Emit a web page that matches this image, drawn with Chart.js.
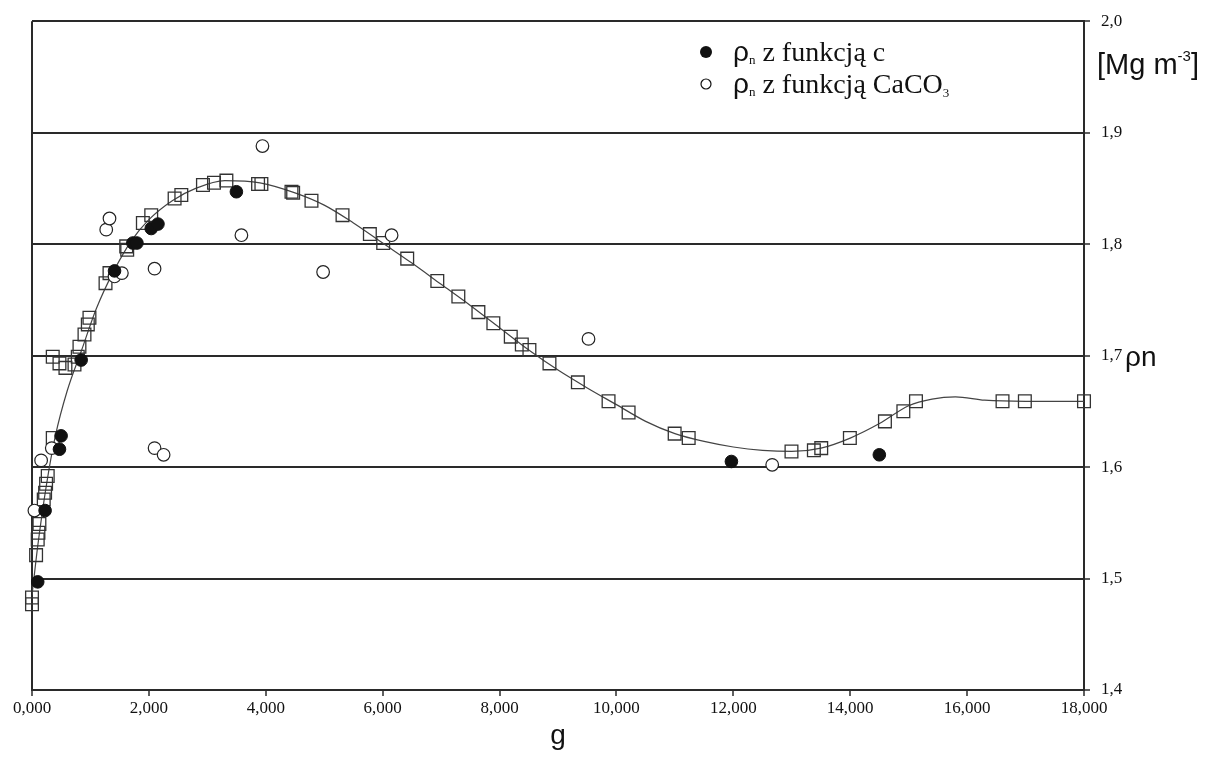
<!DOCTYPE html>
<html>
<head>
<meta charset="utf-8">
<script src="https://cdn.jsdelivr.net/npm/chart.js@4.4.1/dist/chart.umd.min.js"></script>
<style>
  body { margin: 0; background: #fff; }
  canvas { display: block; }
</style>
</head>
<body>
<canvas id="chart" width="1207" height="758"></canvas>
<script>
// ρn z funkcją c (filled circles)
const cX = [0.098, 0.224, 0.470, 0.498, 0.841, 1.412, 1.726, 1.795, 2.040, 2.155, 3.497, 11.967, 14.498];
const cY = [1.497, 1.561, 1.616, 1.628, 1.696, 1.776, 1.801, 1.801, 1.814, 1.818, 1.847, 1.605, 1.611];

// ρn z funkcją CaCO3 (open circles)
const caX = [0.041, 0.156, 0.338, 1.270, 1.326, 1.412, 1.538, 2.097, 2.097, 2.252, 3.583, 3.943, 4.981, 6.153, 9.522, 12.665];
const caY = [1.561, 1.606, 1.617, 1.813, 1.823, 1.771, 1.774, 1.778, 1.617, 1.611, 1.808, 1.888, 1.775, 1.808, 1.715, 1.602];

// squares
const sqX = [0, 0, 0.070, 0.098, 0.110, 0.127, 0.201, 0.224, 0.241, 0.269, 0.355, 0.355, 0.470, 0.572, 0.727, 0.783,
  0.812, 0.898, 0.955, 0.983, 1.258, 1.326, 1.612, 1.629, 1.897, 2.040, 2.440, 2.555, 2.925, 3.114, 3.326, 3.868,
  3.925, 4.440, 4.468, 4.782, 5.313, 5.781, 6.009, 6.420, 6.935, 7.295, 7.638, 7.894, 8.192, 8.381, 8.511, 8.854,
  9.340, 9.865, 10.208, 10.996, 11.236, 12.995, 13.378, 13.504, 13.994, 14.594, 14.909, 15.125, 16.606, 16.988, 18.0];
const sqY = [1.483, 1.477, 1.521, 1.535, 1.541, 1.549, 1.571, 1.577, 1.585, 1.592, 1.626, 1.699, 1.693, 1.689, 1.692, 1.699,
  1.708, 1.719, 1.728, 1.734, 1.765, 1.774, 1.798, 1.795, 1.819, 1.826, 1.841, 1.844, 1.853, 1.855, 1.857, 1.854,
  1.854, 1.847, 1.846, 1.839, 1.826, 1.809, 1.801, 1.787, 1.767, 1.753, 1.739, 1.729, 1.717, 1.710, 1.705, 1.693,
  1.676, 1.659, 1.649, 1.630, 1.626, 1.614, 1.615, 1.617, 1.626, 1.641, 1.650, 1.659, 1.659, 1.659, 1.659];

// fitted curve
const curveX = [0, 0.1, 0.25, 0.4, 0.6, 0.85, 1.1, 1.4, 1.7, 2.0, 2.4, 2.8, 3.3, 3.9, 4.5, 5.0, 5.5, 6.0, 6.5, 7.0,
  7.5, 8.0, 8.5, 9.0, 9.5, 10.0, 10.5, 11.0, 11.5, 12.0, 12.5, 13.0, 13.5, 14.0, 14.5, 15.0, 15.4, 15.8, 16.3, 17.0, 18.0];
const curveY = [1.485, 1.530, 1.585, 1.628, 1.668, 1.705, 1.742, 1.776, 1.803, 1.822, 1.839, 1.850, 1.857, 1.855, 1.846, 1.835, 1.819, 1.801, 1.783, 1.764,
  1.745, 1.725, 1.705, 1.687, 1.671, 1.656, 1.641, 1.630, 1.623, 1.618, 1.615, 1.614, 1.617, 1.626, 1.639, 1.655, 1.661, 1.663, 1.660, 1.659, 1.659];

const toPts = (xs, ys) => xs.map((x, i) => ({ x: x, y: ys[i] }));

const ink = '#2a2a2a';
const serif = '"Liberation Serif", "Times New Roman", serif';
const sans = '"Liberation Sans", Arial, sans-serif';

// texts outside the library: legend, units, axis titles
const textPlugin = {
    id: 'texts',
    afterDraw(chart) {
        const ctx = chart.ctx;
        const area = chart.chartArea;
        ctx.save();
        ctx.fillStyle = '#111';
        ctx.textBaseline = 'alphabetic';

        // legend
        const rows = [
            { filled: true, text: ' z funkcją c', sub2: '' },
            { filled: false, text: ' z funkcją CaCO', sub2: '3' }
        ];
        rows.forEach((r, i) => {
            const cy = 52 + i * 32;
            ctx.beginPath();
            ctx.arc(706, cy, r.filled ? 6 : 5, 0, Math.PI * 2);
            if (r.filled) { ctx.fillStyle = '#111'; ctx.fill(); }
            else { ctx.strokeStyle = '#111'; ctx.lineWidth = 1.2; ctx.stroke(); }
            ctx.fillStyle = '#111';
            let x = 733;
            const base = cy + 9;
            ctx.font = '28px ' + sans;
            ctx.fillText('ρ', x, base);
            x += ctx.measureText('ρ').width;
            ctx.font = '13px ' + serif;
            ctx.fillText('n', x, base + 3);
            x += ctx.measureText('n').width;
            ctx.font = '28px ' + serif;
            ctx.fillText(r.text, x, base);
            x += ctx.measureText(r.text).width;
            if (r.sub2) {
                ctx.font = '13px ' + serif;
                ctx.fillText(r.sub2, x, base + 4);
            }
        });

        // units
        let ux = 1097;
        ctx.font = '29px ' + sans;
        ctx.fillText('[Mg m', ux, 74);
        ux += ctx.measureText('[Mg m').width;
        ctx.font = '15px ' + sans;
        ctx.fillText('-3', ux, 61);
        ux += ctx.measureText('-3').width;
        ctx.font = '29px ' + sans;
        ctx.fillText(']', ux, 74);

        // right axis title
        ctx.font = '28px ' + sans;
        ctx.fillText('ρn', 1125, 366);

        // x axis title
        ctx.textAlign = 'center';
        ctx.fillText('g', (area.left + area.right) / 2, 744);
        ctx.restore();
    }
};

new Chart(document.getElementById('chart'), {
    type: 'scatter',
    data: {
        datasets: [
            {
                label: 'ρn z funkcją c',
                data: toPts(cX, cY),
                pointStyle: 'circle',
                pointRadius: 6.3,
                backgroundColor: '#111',
                borderColor: '#111',
                borderWidth: 1,
                clip: false,
                order: 0
            },
            {
                label: 'ρn z funkcją CaCO3',
                data: toPts(caX, caY),
                pointStyle: 'circle',
                pointRadius: 6.3,
                backgroundColor: '#fff',
                borderColor: '#222',
                borderWidth: 1.2,
                clip: false,
                order: 1
            },
            {
                label: 'squares',
                data: toPts(sqX, sqY),
                pointStyle: 'rect',
                pointRadius: 9,
                backgroundColor: 'rgba(0,0,0,0)',
                borderColor: '#333',
                borderWidth: 1.3,
                clip: false,
                order: 2
            },
            {
                label: 'curve',
                data: toPts(curveX, curveY),
                showLine: true,
                pointRadius: 0,
                borderColor: '#444',
                borderWidth: 1.2,
                cubicInterpolationMode: 'monotone',
                order: 3
            }
        ]
    },
    options: {
        responsive: false,
        animation: false,
        layout: { padding: { left: 32, top: 19, right: 0, bottom: 0 } },
        plugins: {
            legend: { display: false },
            tooltip: { enabled: false }
        },
        scales: {
            x: {
                type: 'linear',
                min: 0,
                max: 18,
                afterFit: function(scale) { scale.height = 68; },
                border: { display: true, color: ink, width: 2 },
                grid: {
                    drawOnChartArea: true,
                    color: ctx => (ctx.tick && ctx.tick.value === 0) ? ink : 'rgba(0,0,0,0)',
                    lineWidth: 2,
                    tickColor: ink,
                    tickLength: 6,
                    tickWidth: 1.5
                },
                ticks: {
                    stepSize: 2,
                    padding: 2,
                    color: '#111',
                    font: { family: serif, size: 17 },
                    callback: v => v.toFixed(3).replace('.', ',')
                }
            },
            y: {
                type: 'linear',
                position: 'right',
                min: 1.4,
                max: 2.0,
                afterFit: function(scale) { scale.width = 123; },
                border: { display: true, color: ink, width: 2 },
                grid: {
                    color: ink,
                    lineWidth: 2,
                    tickColor: ink,
                    tickLength: 6,
                    tickWidth: 1.5
                },
                ticks: {
                    stepSize: 0.1,
                    padding: 11,
                    color: '#111',
                    font: { family: serif, size: 17 },
                    callback: v => v.toFixed(1).replace('.', ',')
                }
            }
        }
    },
    plugins: [textPlugin]
});
</script>
</body>
</html>
